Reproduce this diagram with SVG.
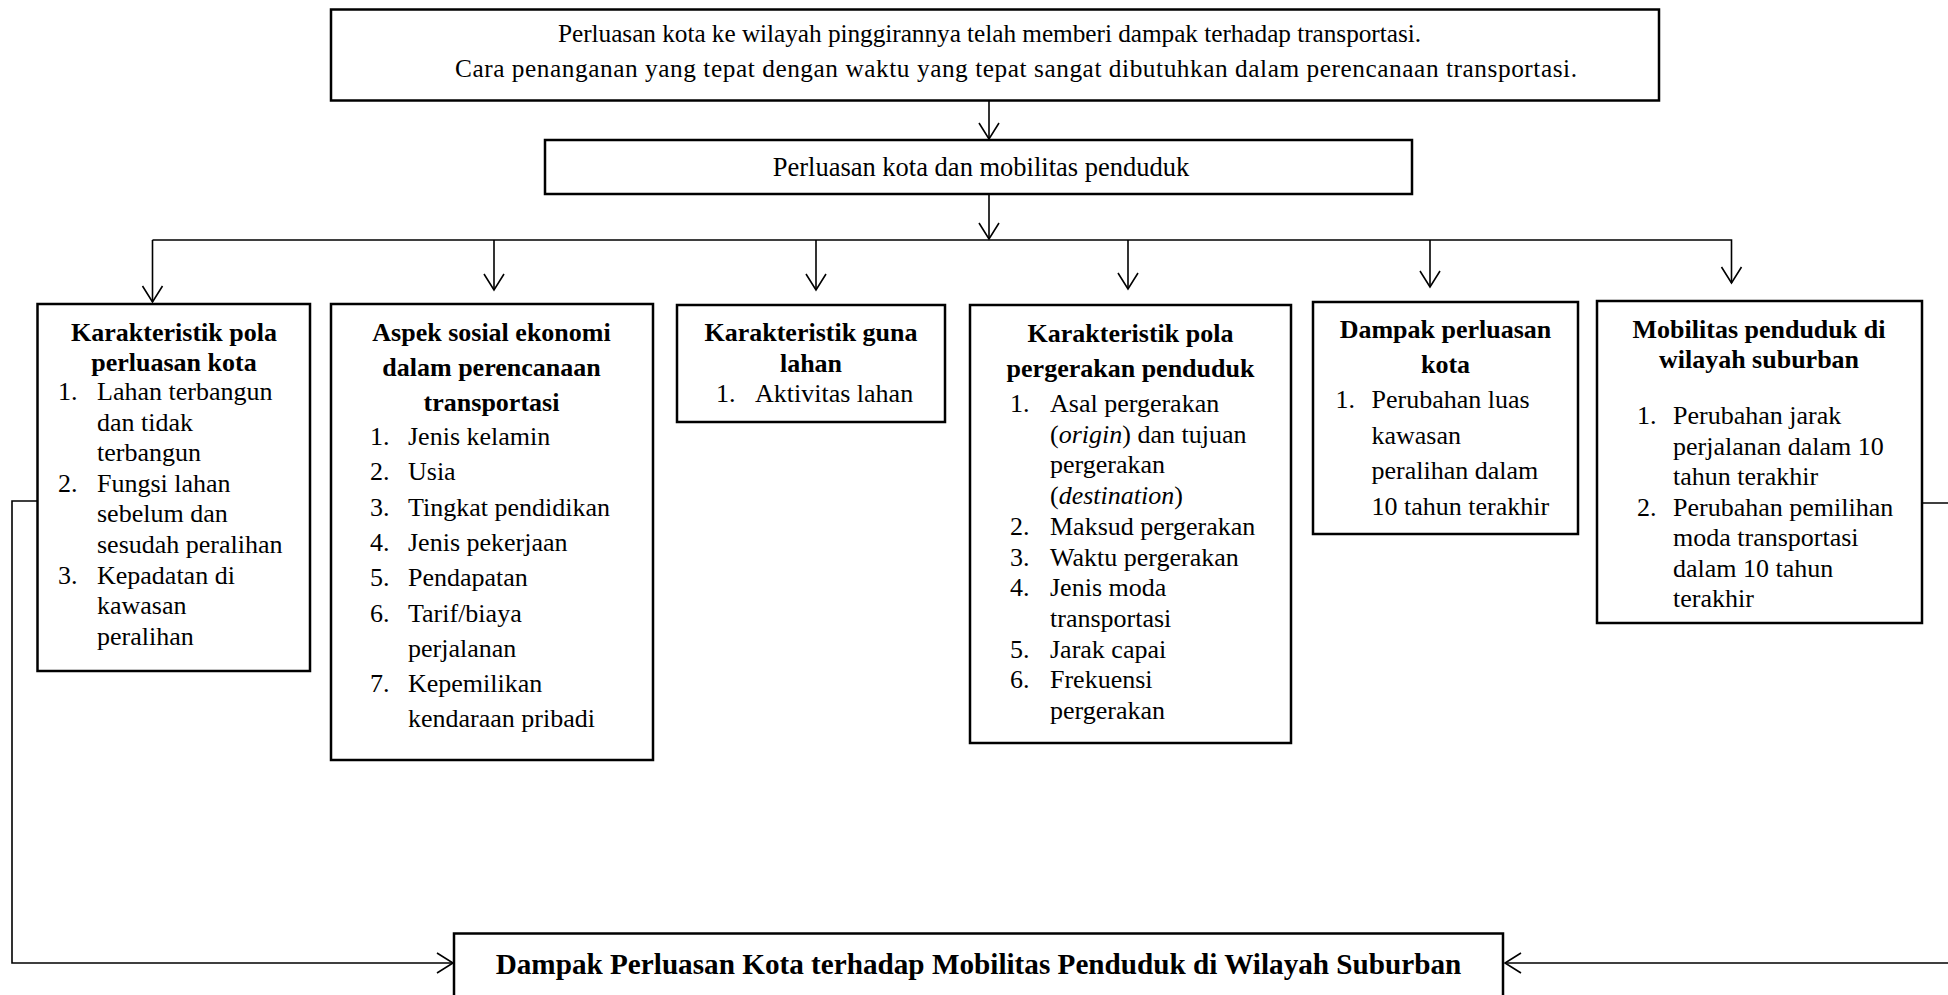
<svg xmlns="http://www.w3.org/2000/svg" width="1948" height="995" viewBox="0 0 1948 995">
<defs>
<style>
.box{fill:#fff;stroke:#000;stroke-width:2.5}
.con{fill:none;stroke:#000;stroke-width:1.6}
text{font-family:"Liberation Serif","Times New Roman",serif;fill:#000}
.t{font-size:25.3px}
.b{font-size:26px}
.h{font-size:26px;font-weight:bold;text-anchor:middle}
.c{text-anchor:middle}
.big{font-size:29.2px;font-weight:bold;text-anchor:middle}
</style>
<marker id="ah" markerWidth="20" markerHeight="24" refX="17" refY="11" orient="auto" markerUnits="userSpaceOnUse">
<path d="M1,1 L17,11 L1,21" fill="none" stroke="#000" stroke-width="1.6"/>
</marker>
</defs>
<rect width="1948" height="995" fill="#fff"/>

<g id="connectors">
<line class="con" x1="989" y1="101" x2="989" y2="139" marker-end="url(#ah)"/>
<line class="con" x1="989" y1="194" x2="989" y2="239" marker-end="url(#ah)"/>
<polyline class="con" points="152.5,240 1731.5,240 1731.5,283" marker-end="url(#ah)"/>
<line class="con" x1="152.5" y1="240" x2="152.5" y2="302" marker-end="url(#ah)"/>
<line class="con" x1="494" y1="240" x2="494" y2="290" marker-end="url(#ah)"/>
<line class="con" x1="816" y1="240" x2="816" y2="290" marker-end="url(#ah)"/>
<line class="con" x1="1128" y1="240" x2="1128" y2="289" marker-end="url(#ah)"/>
<line class="con" x1="1430" y1="240" x2="1430" y2="287" marker-end="url(#ah)"/>
<polyline class="con" points="37,501 12,501 12,963 453,963" marker-end="url(#ah)"/>
<polyline class="con" points="1922,503 1962,503 1962,963 1505,963" marker-end="url(#ah)"/>
</g>

<g id="top">
<rect class="box" x="331" y="9.5" width="1328" height="91"/>
<text class="t" x="558" y="42" textLength="863" lengthAdjust="spacing">Perluasan kota ke wilayah pinggirannya telah memberi dampak terhadap transportasi.</text>
<text class="t" x="455" y="77" textLength="1122" lengthAdjust="spacing">Cara penanganan yang tepat dengan waktu yang tepat sangat dibutuhkan dalam perencanaan transportasi.</text>
</g>

<g id="mid">
<rect class="box" x="545" y="140" width="867" height="54"/>
<text class="c" x="981" y="176" font-size="26.5">Perluasan kota dan mobilitas penduduk</text>
</g>

<g id="n1">
<rect class="box" x="37.5" y="304" width="272.5" height="367"/>
<text class="h" x="174" y="341">Karakteristik pola</text>
<text class="h" x="174" y="371">perluasan kota</text>
<text class="b" x="58" y="400">1.</text><text class="b" x="97" y="400">Lahan terbangun</text>
<text class="b" x="97" y="430.6">dan tidak</text>
<text class="b" x="97" y="461.2">terbangun</text>
<text class="b" x="58" y="491.8">2.</text><text class="b" x="97" y="491.8">Fungsi lahan</text>
<text class="b" x="97" y="522.4">sebelum dan</text>
<text class="b" x="97" y="553">sesudah peralihan</text>
<text class="b" x="58" y="583.6">3.</text><text class="b" x="97" y="583.6">Kepadatan di</text>
<text class="b" x="97" y="614.2">kawasan</text>
<text class="b" x="97" y="644.8">peralihan</text>
</g>

<g id="n2">
<rect class="box" x="331" y="304" width="322" height="456"/>
<text class="h" x="491.5" y="341">Aspek sosial ekonomi</text>
<text class="h" x="491.5" y="376">dalam perencanaan</text>
<text class="h" x="491.5" y="411">transportasi</text>
<text class="b" x="370" y="445">1.</text><text class="b" x="408" y="445">Jenis kelamin</text>
<text class="b" x="370" y="480.3">2.</text><text class="b" x="408" y="480.3">Usia</text>
<text class="b" x="370" y="515.6">3.</text><text class="b" x="408" y="515.6">Tingkat pendidikan</text>
<text class="b" x="370" y="550.9">4.</text><text class="b" x="408" y="550.9">Jenis pekerjaan</text>
<text class="b" x="370" y="586.2">5.</text><text class="b" x="408" y="586.2">Pendapatan</text>
<text class="b" x="370" y="621.5">6.</text><text class="b" x="408" y="621.5">Tarif/biaya</text>
<text class="b" x="408" y="656.8">perjalanan</text>
<text class="b" x="370" y="692.1">7.</text><text class="b" x="408" y="692.1">Kepemilikan</text>
<text class="b" x="408" y="727.4">kendaraan pribadi</text>
</g>

<g id="n3">
<rect class="box" x="677" y="305" width="268" height="117"/>
<text class="h" x="811" y="341">Karakteristik guna</text>
<text class="h" x="811" y="372">lahan</text>
<text class="b" x="716" y="402">1.</text><text class="b" x="755" y="402">Aktivitas lahan</text>
</g>

<g id="n4">
<rect class="box" x="970" y="305" width="321" height="438"/>
<text class="h" x="1130.5" y="342">Karakteristik pola</text>
<text class="h" x="1130.5" y="377">pergerakan penduduk</text>
<text class="b" x="1010" y="412">1.</text><text class="b" x="1050" y="412">Asal pergerakan</text>
<text class="b" x="1050" y="442.7">(<tspan font-style="italic">origin</tspan>) dan tujuan</text>
<text class="b" x="1050" y="473.4">pergerakan</text>
<text class="b" x="1050" y="504.1">(<tspan font-style="italic">destination</tspan>)</text>
<text class="b" x="1010" y="534.8">2.</text><text class="b" x="1050" y="534.8">Maksud pergerakan</text>
<text class="b" x="1010" y="565.5">3.</text><text class="b" x="1050" y="565.5">Waktu pergerakan</text>
<text class="b" x="1010" y="596.2">4.</text><text class="b" x="1050" y="596.2">Jenis moda</text>
<text class="b" x="1050" y="626.9">transportasi</text>
<text class="b" x="1010" y="657.6">5.</text><text class="b" x="1050" y="657.6">Jarak capai</text>
<text class="b" x="1010" y="688.3">6.</text><text class="b" x="1050" y="688.3">Frekuensi</text>
<text class="b" x="1050" y="719">pergerakan</text>
</g>

<g id="n5">
<rect class="box" x="1313" y="302" width="265" height="232"/>
<text class="h" x="1445.5" y="338">Dampak perluasan</text>
<text class="h" x="1445.5" y="373">kota</text>
<text class="b" x="1335.5" y="408">1.</text><text class="b" x="1371.5" y="408">Perubahan luas</text>
<text class="b" x="1371.5" y="443.5">kawasan</text>
<text class="b" x="1371.5" y="479">peralihan dalam</text>
<text class="b" x="1371.5" y="514.5">10 tahun terakhir</text>
</g>

<g id="n6">
<rect class="box" x="1597" y="301" width="325" height="322"/>
<text class="h" x="1759" y="338">Mobilitas penduduk di</text>
<text class="h" x="1759" y="368">wilayah suburban</text>
<text class="b" x="1637" y="424">1.</text><text class="b" x="1673" y="424">Perubahan jarak</text>
<text class="b" x="1673" y="454.5">perjalanan dalam 10</text>
<text class="b" x="1673" y="485">tahun terakhir</text>
<text class="b" x="1637" y="515.5">2.</text><text class="b" x="1673" y="515.5">Perubahan pemilihan</text>
<text class="b" x="1673" y="546">moda transportasi</text>
<text class="b" x="1673" y="576.5">dalam 10 tahun</text>
<text class="b" x="1673" y="607">terakhir</text>
</g>

<g id="bottom">
<rect class="box" x="454" y="933.5" width="1049" height="80"/>
<text class="big" x="978.5" y="974">Dampak Perluasan Kota terhadap Mobilitas Penduduk di Wilayah Suburban</text>
</g>
</svg>
